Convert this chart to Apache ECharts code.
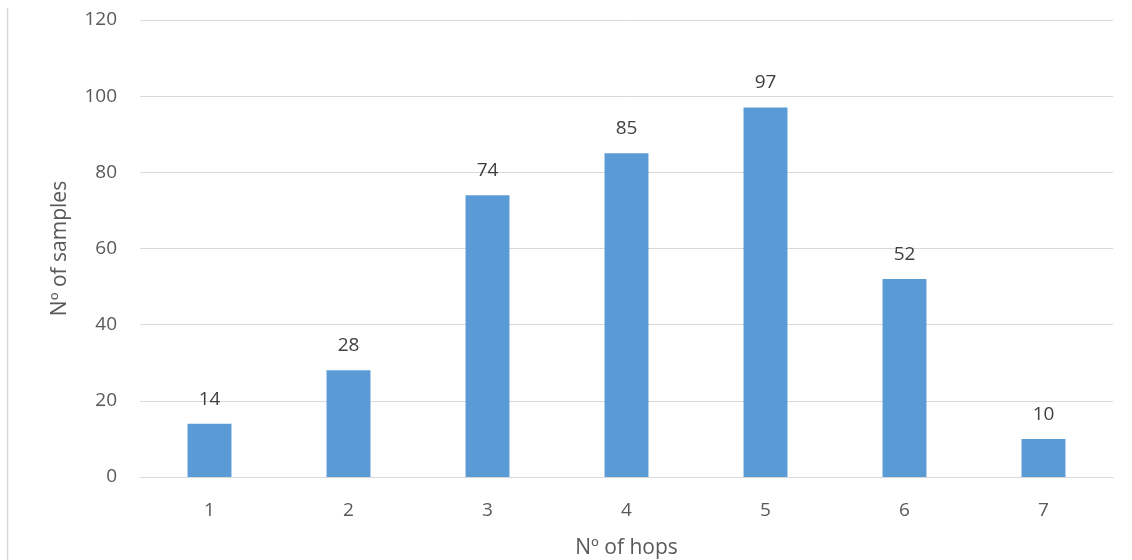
<!DOCTYPE html>
<html>
<head>
<meta charset="utf-8">
<script src="https://cdn.jsdelivr.net/npm/echarts@6/dist/echarts.min.js"></script>
<style>
  html, body { margin: 0; padding: 0; background: #fff; }
  #chart { width: 1132px; height: 560px; }
</style>
</head>
<body>
<div id="chart"></div>
<script>
// Hop counts and the number of samples observed for each
const hops = ['1', '2', '3', '4', '5', '6', '7'];
const samples = [14, 28, 74, 85, 97, 52, 10];
const yTicks = [0, 20, 40, 60, 80, 100, 120];

const FONT = '"Open Sans", "Liberation Sans", sans-serif';
const TEXT = '#595959';

const chart = echarts.init(document.getElementById('chart'));
chart.setOption({
  animation: false,
  textStyle: { fontFamily: FONT },
  grid: { left: 140, right: 19, top: 20, bottom: 83, containLabel: false, outerBoundsMode: 'none' },
  graphic: [{
    type: 'line',
    shape: { x1: 7.5, y1: 8, x2: 7.5, y2: 560 },
    style: { stroke: '#d9d9d9', lineWidth: 1.5 }
  }],
  xAxis: {
    type: 'category',
    data: hops,
    name: 'Nº of hops',
    nameLocation: 'middle',
    nameGap: 61,
    nameTextStyle: { fontSize: 21, color: TEXT, fontFamily: FONT },
    axisLine: { show: true, lineStyle: { color: '#d9d9d9', width: 1 } },
    axisTick: { show: false },
    axisLabel: { fontSize: 19, color: TEXT, margin: 24, fontFamily: FONT }
  },
  yAxis: {
    type: 'value',
    min: yTicks[0],
    max: yTicks[yTicks.length - 1],
    interval: 20,
    name: 'Nº of samples',
    nameLocation: 'middle',
    nameGap: 69,
    nameTextStyle: { fontSize: 21, color: TEXT, fontFamily: FONT },
    axisLine: { show: false },
    axisTick: { show: false },
    axisLabel: { fontSize: 19, color: TEXT, margin: 23, fontFamily: FONT },
    splitLine: { lineStyle: { color: '#d9d9d9', width: 1 } }
  },
  series: [{
    type: 'bar',
    data: samples,
    barWidth: '31.6%',
    itemStyle: { color: '#5b9bd5' },
    label: {
      show: true,
      position: 'top',
      distance: 15,
      fontSize: 19,
      color: '#404040',
      fontFamily: FONT
    }
  }]
});
</script>
</body>
</html>
